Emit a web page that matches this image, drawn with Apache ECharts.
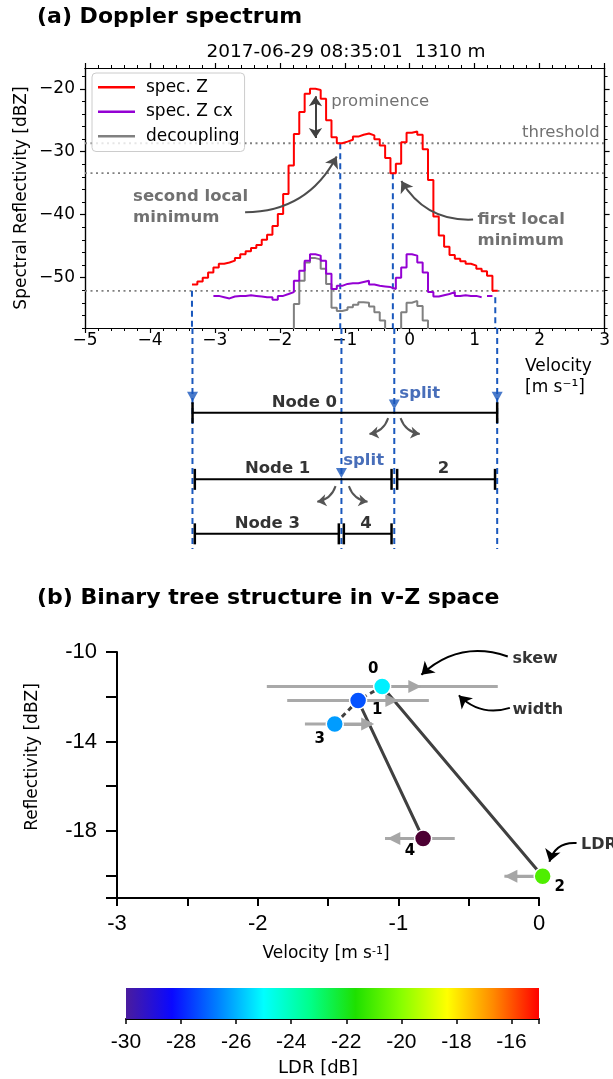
<!DOCTYPE html>
<html>
<head>
<meta charset="utf-8">
<title>Doppler spectrum / binary tree</title>
<script src="https://cdn.jsdelivr.net/npm/echarts@6.0.0/dist/echarts.min.js"></script>
<style>
html, body { margin: 0; padding: 0; background: #fff; }
#main { width: 613px; height: 1079px; }
</style>
</head>
<body>
<div id="main"></div>
<script>
// ---- (a) Doppler spectrum: left edges of the velocity bins (last entry = right edge of last bin)
var velocityEdges = [
  -3.353, -3.270, -3.188, -3.105, -3.023, -2.940, -2.857, -2.775, -2.692, -2.610,
  -2.527, -2.444, -2.362, -2.279, -2.197, -2.114, -2.031, -1.949, -1.866, -1.784,
  -1.701, -1.618, -1.536, -1.453, -1.371, -1.288, -1.205, -1.123, -1.040, -0.958,
  -0.875, -0.792, -0.710, -0.627, -0.545, -0.462, -0.379, -0.297, -0.214, -0.132,
  -0.049, 0.033, 0.116, 0.199, 0.281, 0.364, 0.447, 0.529, 0.612, 0.694,
  0.777, 0.860, 0.942, 1.025, 1.107, 1.190, 1.273, 1.355
];
var specZ = [
  -51.1, -50.6, -50.0, -49.2, -48.4, -47.8, -47.6, -47.3, -46.9, -46.3,
  -45.8, -45.3, -44.8, -44.0, -43.2, -41.8, -39.9, -36.7, -32.2, -27.2,
  -23.7, -20.8, -20.0, -20.2, -21.6, -25.0, -27.7, -28.65, -28.4, -28.1,
  -27.6, -27.3, -27.1, -27.4, -28.0, -29.0, -31.0, -33.4, -31.9, -28.5,
  -27.0, -26.8, -27.3, -29.6, -34.5, -40.3, -43.3, -45.1, -46.4, -47.0,
  -47.4, -47.8, -48.1, -48.6, -49.0, -49.7, -52.1
];
var specZcx = [
  null, null, null, null, -52.9, -53.1, -53.3, -53.0, -52.9, -52.9,
  -52.8, -52.9, -53.0, -53.1, -53.1, -53.5, -52.9, -52.6, -52.3, -50.5,
  -48.9, -47.3, -46.3, -46.5, -47.3, -49.4, -51.8, -51.3, -51.0, -50.9,
  -50.9, -50.7, -50.5, -51.1, -51.3, -51.4, -51.5, -51.8, -50.0, -48.4,
  -46.3, -46.5, -47.6, -49.2, -52.3, -53.0, -52.8, -52.6, -52.3, -52.9,
  -52.8, -52.9, -52.9, -53.1, null, -52.9, null
];
// -70 = below the plotted range
var decoupling = [
  -70, -70, -70, -70, -70, -70, -70, -70, -70, -70,
  -70, -70, -70, -70, -70, -70, -70, -70, -70, -54.2,
  -50.5, -47.6, -46.9, -47.1, -48.6, -51.0, -54.8, -55.3, -55.1, -54.7,
  -54.3, -53.9, -54.0, -54.6, -55.5, -56.8, -70, -70, -70, -55.5,
  -54.0, -53.7, -54.5, -56.8, -70, -70, -70, -70, -70, -70,
  -70, -70, -70, -70, -70, -70, -70
];
var levelLines = [-28.65, -33.4, -52.1];            // threshold / first minimum / noise
var guideLines = [[-3.353, -52.1], [-1.07, -28.65], [-0.26, -33.4], [1.317, -53.1]];

// tree of spectrum nodes, drawn below panel (a)
var nodeNames = ['Node 0', 'Node 1', '2', 'Node 3', '4'];
var nodeLeft = [-3.352, -3.317, -0.216, -3.317, -1.033];
var nodeRight = [1.317, -0.302, 1.284, -1.110, -0.302];
var nodeRow = [0, 1.1, 1.1, 2, 2];
var nodeNameV = [-1.63, -2.04, 0.50, -2.198, -0.685];
var splitV = [-0.26, -1.07];
var splitRow = [0, 1.1];

// ---- (b) binary tree in v-Z space
var treeIds = ['0', '1', '2', '3', '4'];
var treeV = [-1.115, -1.286, 0.026, -1.452, -0.824];
var treeZ = [-11.54, -12.17, -20.03, -13.22, -18.34];
var treeLDR = [-25.2, -27.3, -20.9, -26.3, -32];     // node 4 below colour scale
var treeWidthL = [-1.935, -1.790, -0.246, -1.664, -1.095];
var treeWidthR = [-0.293, -0.783, 0.214, -1.187, -0.599];
var treeSkew = [-0.883, -1.046, -0.200, -1.218, -1.032];
var treeParent = [null, 0, 0, 1, 1];

var ldrTicks = [-30, -28, -26, -24, -22, -20, -18, -16];
var ldrColors = ['#4a1c9e', '#0a08ff', '#0080ff', '#00ffff', '#00ff8c', '#1ee000', '#88ff00', '#ffff00', '#ff8a00', '#ff0000'];

var BLUE = '#1a58bd';
var ANN = '#4d4d4d';

function stepped(edges, vals) {
  var pts = [];
  for (var i = 0; i < vals.length; i++) {
    if (vals[i] == null) { pts.push([edges[i], null]); continue; }
    pts.push([edges[i], vals[i]], [edges[i + 1], vals[i]]);
  }
  return pts;
}
function segs(list) {
  var pts = [];
  list.forEach(function (s) { pts.push(s[0], s[1], [s[1][0], null]); });
  return pts;
}
function minusFmt(v) { return v < 0 ? '\u2212' + Math.abs(v) : String(v); }
function textSeries(ax, items, common) {
  return {
    type: 'scatter', xAxisIndex: ax, yAxisIndex: ax, silent: true, clip: false, z: 12,
    symbolSize: 1, itemStyle: { color: 'rgba(0,0,0,0)' },
    data: items.map(function (it) {
      return { value: it[0], label: Object.assign({ show: true, position: [0, 0], formatter: it[1] }, common, it[2] || {}) };
    })
  };
}
function arrows(ax, list, color, width, size, symbols) {
  return {
    type: 'lines', coordinateSystem: 'cartesian2d', xAxisIndex: ax, yAxisIndex: ax,
    silent: true, clip: false, z: 9,
    symbol: symbols || ['none', 'arrow'], symbolSize: size,
    itemStyle: { color: color },
    lineStyle: { color: color, width: width, opacity: 1 },
    data: list.map(function (a) { return { coords: [a[0], a[1]], lineStyle: { curveness: a[2] || 0 } }; })
  };
}
function plainLine(ax, data, color, width, type, z) {
  return {
    type: 'line', xAxisIndex: ax, yAxisIndex: ax, data: data, symbol: 'none', silent: true,
    clip: ax === 0, z: z || 3, lineStyle: { color: color, width: width, type: type || 'solid' }
  };
}

var fontA = { fontFamily: 'DejaVu Sans', fontSize: 17, color: '#000' };
var blackLine = { show: true, onZero: false, lineStyle: { color: '#000', width: 1.2 } };
function axA(o) {
  return Object.assign({ type: 'value', gridIndex: 0, splitLine: { show: false }, axisLine: blackLine }, o);
}

var series = [];
// panel (a)
series.push(plainLine(0, segs(levelLines.map(function (l) { return [[-5, l], [3, l]]; })), '#808080', 1.8, [2, 3.5], 2));
series.push(plainLine(0, segs(guideLines.map(function (g) { return [[g[0], g[1]], [g[0], -58]]; })), BLUE, 2, [6, 4], 2));
series.push({ name: 'decoupling', type: 'line', xAxisIndex: 0, yAxisIndex: 0, data: stepped(velocityEdges, decoupling),
  symbol: 'none', clip: true, z: 4, itemStyle: { color: '#808080' }, lineStyle: { color: '#808080', width: 2 } });
series.push({ name: 'spec. Z cx', type: 'line', xAxisIndex: 0, yAxisIndex: 0, data: stepped(velocityEdges, specZcx),
  symbol: 'none', clip: true, z: 5, itemStyle: { color: '#9400d3' }, lineStyle: { color: '#9400d3', width: 2 } });
series.push({ name: 'spec. Z', type: 'line', xAxisIndex: 0, yAxisIndex: 0, data: stepped(velocityEdges, specZ),
  symbol: 'none', clip: true, z: 6, itemStyle: { color: '#ff0000' }, lineStyle: { color: '#ff0000', width: 2 } });
series.push(arrows(0, [[[-1.452, -21.2], [-1.452, -27.8]]], '#404040', 2, 10, ['arrow', 'arrow']));
series.push(arrows(0, [[[-2.535, -39.62], [-1.125, -30.76], -0.3], [[0.975, -40.78], [-0.129, -34.66], 0.3]], ANN, 2, 11));
series.push(textSeries(0, [
  [[-1.202, -22.13], 'prominence', { color: ANN, fontWeight: 'normal' }],
  [[2.932, -27.06], 'threshold', { color: ANN, fontWeight: 'normal', align: 'right' }],
  [[-4.252, -38.87], 'second local\nminimum'],
  [[1.051, -42.58], 'first local\nminimum']
], { fontFamily: 'DejaVu Sans', fontSize: 16.5, fontWeight: 'bold', color: ANN, align: 'left', verticalAlign: 'middle', lineHeight: 21 }));

// tree below panel (a)
series.push(plainLine(4, segs(guideLines.map(function (g) { return [[g[0], -1.4], [g[0], 2.25]]; })), BLUE, 2, [6, 4], 2));
nodeNames.forEach(function (n, i) {
  series.push({
    type: 'line', xAxisIndex: 4, yAxisIndex: 4, silent: true, z: 5,
    data: [[nodeLeft[i], nodeRow[i]], [nodeRight[i], nodeRow[i]]],
    symbol: 'rect', symbolSize: [2.5, 21], showSymbol: true,
    itemStyle: { color: '#000' }, lineStyle: { color: '#000', width: 2 }
  });
});
series.push({
  type: 'scatter', xAxisIndex: 4, yAxisIndex: 4, silent: true, z: 6,
  symbol: 'path://M0,0L10,0L5,9Z', symbolSize: [11, 10], itemStyle: { color: BLUE },
  data: [[nodeLeft[0], -0.264], [nodeRight[0], -0.264], [splitV[0], splitRow[0] - 0.136], [splitV[1], splitRow[1] - 0.103]]
});
series.push(textSeries(4, nodeNames.map(function (n, i) { return [[nodeNameV[i], nodeRow[i] - 0.16], n]; }),
  { fontFamily: 'DejaVu Sans', fontSize: 16.5, fontWeight: 'bold', color: '#000', align: 'center', verticalAlign: 'middle' }));
series.push(textSeries(4, [
  [[splitV[0] + 0.085, splitRow[0] - 0.304], 'split'],
  [[splitV[1] + 0.035, splitRow[1] - 0.307], 'split']
], { fontFamily: 'DejaVu Sans', fontSize: 16.5, fontWeight: 'bold', color: '#1a4aa8', align: 'left', verticalAlign: 'middle' }));
series.push(arrows(4, [
  [[-0.354, 0.088], [-0.64, 0.35], 0.3], [[-0.164, 0.088], [0.13, 0.35], -0.3],
  [[-1.160, 1.212], [-1.44, 1.47], 0.3], [[-0.956, 1.212], [-0.67, 1.47], -0.3]
], '#555555', 2, 9));

// panel (b)
var solidEdges = [], dashedEdges = [];
treeParent.forEach(function (p, i) {
  if (p == null) return;
  var e = [[treeV[p], treeZ[p]], [treeV[i], treeZ[i]]];
  (treeV[i] < treeV[p] ? dashedEdges : solidEdges).push(e);
});
series.push(plainLine(5, segs(solidEdges), '#404040', 3, 'solid', 3));
series.push(plainLine(5, segs(dashedEdges), '#404040', 3, [5, 4], 3));
series.push(plainLine(5, segs(treeV.map(function (v, i) { return [[treeWidthL[i], treeZ[i]], [treeWidthR[i], treeZ[i]]]; })), '#a9a9a9', 3, 'solid', 4));
series.push(arrows(5, treeV.map(function (v, i) { return [[v, treeZ[i]], [treeSkew[i], treeZ[i]]]; }), '#a6a6a6', 3, 13, ['none', 'triangle']));
var nodeOffsets = [[-9, -17], [19, 10], [17, 11], [-15, 15], [-13, 13]];
var nodeSeriesIndex = series.length;
series.push({
  type: 'scatter', xAxisIndex: 5, yAxisIndex: 5, silent: true, clip: false, z: 10,
  symbolSize: 17, itemStyle: { borderColor: '#fff', borderWidth: 1.5, opacity: 1 },
  data: treeIds.map(function (id, i) {
    return { value: [treeV[i], treeZ[i], treeLDR[i]],
      label: { show: true, formatter: id, position: 'inside', offset: nodeOffsets[i],
        fontFamily: 'DejaVu Sans', fontSize: 15, fontWeight: 'bold', color: '#000' } };
  })
});
series.push(arrows(5, [
  [[-0.222, -10.2], [-0.836, -11.02], -0.3],
  [[-0.207, -12.5], [-0.570, -11.94], 0.3],
  [[0.267, -18.54], [0.074, -19.38], -0.4]
], '#000', 2, 12));
series.push(textSeries(5, [
  [[-0.185, -10.35], 'skew'], [[-0.185, -12.59], 'width'], [[0.303, -18.64], 'LDR']
], { fontFamily: 'DejaVu Sans', fontSize: 16, fontWeight: 'bold', color: '#000', align: 'left', verticalAlign: 'middle' }));

// colour bar
series.push({
  type: 'custom', xAxisIndex: 6, yAxisIndex: 6, silent: true, encode: { x: [0, 1] },
  data: [[ldrTicks[0], -15]],
  renderItem: function (params, api) {
    var p0 = api.coord([api.value(0), 1]);
    var p1 = api.coord([api.value(1), 0]);
    return {
      type: 'rect',
      shape: { x: p0[0], y: p0[1], width: p1[0] - p0[0], height: p1[1] - p0[1] },
      style: { fill: new echarts.graphic.LinearGradient(0, 0, 1, 0, ldrColors.map(function (c, i) {
        return { offset: i / (ldrColors.length - 1), color: c };
      })) }
    };
  }
});

var yMinorTicks = [];
for (var t = -58; t <= -18; t += 2) yMinorTicks.push(t);
var yMajorTicks = [-50, -40, -30, -20];

var option = {
  animation: false,
  backgroundColor: '#fff',
  textStyle: { fontFamily: 'DejaVu Sans' },
  grid: [
    { left: 85, top: 68, width: 522, height: 260 },
    { left: 85, top: 328, width: 522, height: 224 },
    { left: 117, top: 652, width: 422, height: 246 },
    { left: 126, top: 988, width: 413, height: 31 }
  ],
  legend: {
    data: ['spec. Z', 'spec. Z cx', 'decoupling'], selectedMode: false,
    orient: 'vertical', left: 92, top: 73, icon: 'rect', itemWidth: 37, itemHeight: 2.5, itemGap: 0,
    itemStyle: { borderWidth: 0 },
    textStyle: { fontFamily: 'DejaVu Sans', fontSize: 17, color: '#000', lineHeight: 24.5, padding: [0, 0, 0, 6] },
    padding: [2, 5, 3, 6], borderColor: '#cccccc', borderWidth: 1, borderRadius: 4,
    backgroundColor: 'rgba(255,255,255,0.8)'
  },
  visualMap: {
    type: 'continuous', show: false, seriesIndex: nodeSeriesIndex, dimension: 2,
    min: -30, max: -15, range: [-29.999, -15],
    inRange: { color: ldrColors }, outOfRange: { color: '#4d0033' }
  },
  xAxis: [
    axA({ min: -5, max: 3, interval: 1, position: 'bottom',
      axisTick: { length: 5, lineStyle: { color: '#000', width: 1.2 } },
      axisLabel: Object.assign({ margin: 4, formatter: minusFmt }, fontA) }),
    axA({ min: -5, max: 3, interval: 0.2, position: 'bottom',
      axisTick: { length: 3, lineStyle: { color: '#000', width: 1 } }, axisLabel: { show: false } }),
    axA({ min: -5, max: 3, interval: 1, position: 'top',
      axisTick: { length: 5, lineStyle: { color: '#000', width: 1.2 } }, axisLabel: { show: false } }),
    axA({ min: -5, max: 3, interval: 0.2, position: 'top',
      axisTick: { length: 3, lineStyle: { color: '#000', width: 1 } }, axisLabel: { show: false } }),
    { type: 'value', gridIndex: 1, min: -5, max: 3, show: false },
    { type: 'value', gridIndex: 2, min: -3, max: 0, interval: 0.5, splitLine: { show: false },
      axisLine: { onZero: false, lineStyle: { color: '#000', width: 2 } },
      axisTick: { length: 8, lineStyle: { color: '#000', width: 2 } },
      axisLabel: { customValues: [-3, -2, -1, 0], margin: 15, fontFamily: 'Liberation Sans', fontSize: 22, color: '#000' } },
    { type: 'value', gridIndex: 3, min: -30, max: -15, interval: 2, splitLine: { show: false },
      axisLine: { onZero: false, lineStyle: { color: '#000', width: 2 } },
      axisTick: { length: 5, lineStyle: { color: '#000', width: 1.5 } },
      axisLabel: { customValues: ldrTicks, margin: 13, fontFamily: 'Liberation Sans', fontSize: 21, color: '#000' } }
  ],
  yAxis: [
    axA({ min: -58, max: -16.7, position: 'left',
      axisTick: { customValues: yMajorTicks, length: 5, lineStyle: { color: '#000', width: 1.2 } },
      axisLabel: Object.assign({ customValues: yMajorTicks, margin: 10, formatter: minusFmt }, fontA) }),
    axA({ min: -58, max: -16.7, position: 'left',
      axisTick: { customValues: yMinorTicks, length: 3, lineStyle: { color: '#000', width: 1 } }, axisLabel: { show: false } }),
    axA({ min: -58, max: -16.7, position: 'right',
      axisTick: { customValues: yMajorTicks, length: 5, lineStyle: { color: '#000', width: 1.2 } }, axisLabel: { show: false } }),
    axA({ min: -58, max: -16.7, position: 'right',
      axisTick: { customValues: yMinorTicks, length: 3, lineStyle: { color: '#000', width: 1 } }, axisLabel: { show: false } }),
    { type: 'value', gridIndex: 1, min: -1.4, max: 2.3, inverse: true, show: false },
    { type: 'value', gridIndex: 2, min: -21, max: -10, splitLine: { show: false },
      axisLine: { onZero: false, lineStyle: { color: '#000', width: 2 } },
      axisTick: { customValues: [-21, -20, -18, -16, -14, -12, -10], length: 11, lineStyle: { color: '#000', width: 2 } },
      axisLabel: { customValues: [-18, -14, -10], margin: 20, fontFamily: 'Liberation Sans', fontSize: 22, color: '#000' } },
    { type: 'value', gridIndex: 3, min: 0, max: 1, show: false }
  ],
  graphic: [
    { type: 'text', x: 37, y: 17, style: { text: '(a) Doppler spectrum', fontFamily: 'DejaVu Sans', fontSize: 22, fontWeight: 'bold', fill: '#000', verticalAlign: 'middle' } },
    { type: 'text', x: 346, y: 52, style: { text: '2017-06-29 08:35:01  1310 m', fontFamily: 'DejaVu Sans', fontSize: 18.5, fill: '#000', align: 'center', verticalAlign: 'middle' } },
    { type: 'text', x: 22, y: 198, rotation: Math.PI / 2, style: { text: 'Spectral Reflectivity [dBZ]', fontFamily: 'DejaVu Sans', fontSize: 17, fill: '#000', align: 'center', verticalAlign: 'middle' } },
    { type: 'text', x: 525, y: 367, style: { text: 'Velocity', fontFamily: 'DejaVu Sans', fontSize: 17, fill: '#000', verticalAlign: 'middle' } },
    { type: 'text', x: 525, y: 388, style: { text: '[m s\u207B\u00B9]', fontFamily: 'DejaVu Sans', fontSize: 17, fill: '#000', verticalAlign: 'middle' } },
    { type: 'text', x: 37, y: 598, style: { text: '(b) Binary tree structure in v-Z space', fontFamily: 'DejaVu Sans', fontSize: 22, fontWeight: 'bold', fill: '#000', verticalAlign: 'middle' } },
    { type: 'text', x: 33, y: 757, rotation: Math.PI / 2, style: { text: 'Reflectivity [dBZ]', fontFamily: 'DejaVu Sans', fontSize: 17, fill: '#000', align: 'center', verticalAlign: 'middle' } },
    { type: 'text', x: 326, y: 954, style: { text: 'Velocity [m s{sup|-1}]', fontFamily: 'DejaVu Sans', fontSize: 17, fill: '#000', align: 'center', verticalAlign: 'middle',
      rich: { sup: { fontFamily: 'DejaVu Sans', fontSize: 11, fill: '#000', verticalAlign: 'top' } } } },
    { type: 'text', x: 318, y: 1068, style: { text: 'LDR [dB]', fontFamily: 'DejaVu Sans', fontSize: 18, fill: '#000', align: 'center', verticalAlign: 'middle' } }
  ],
  series: series
};

var chart = echarts.init(document.getElementById('main'));
chart.setOption(option);
</script>
</body>
</html>
